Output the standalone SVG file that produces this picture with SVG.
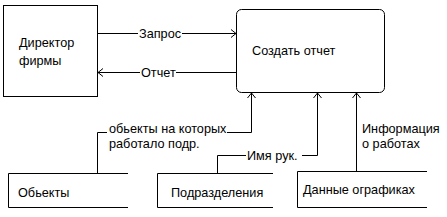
<svg xmlns="http://www.w3.org/2000/svg" width="447" height="217" viewBox="0 0 447 217">
<defs>
<style>
text{font-family:"Liberation Sans",Arial,sans-serif;font-size:12.7px;fill:#000}
.ln{fill:none;stroke:#000;stroke-width:1}
</style>
<marker id="ah" markerWidth="10" markerHeight="10" refX="6" refY="5" orient="auto" markerUnits="userSpaceOnUse">
<path d="M1,1 L6,5 L1,9" fill="none" stroke="#000" stroke-width="1"/>
</marker>
</defs>
<rect width="447" height="217" fill="#fff"/>
<g id="director">
<rect class="ln" x="3.5" y="5.5" width="94" height="91"/>
<text x="19" y="47">Директор</text>
<text x="19" y="65">фирмы</text>
</g>
<g id="create-report">
<rect class="ln" x="236.5" y="9.5" width="148" height="83" rx="5" ry="5"/>
<text x="252" y="55">Создать отчет</text>
</g>
<g id="objects">
<path class="ln" d="M128,173.5 H8.5 V207.5 H128"/>
<text x="18" y="197">Обьекты</text>
</g>
<g id="departments">
<path class="ln" d="M273,173.5 H157.5 V207.5 H273"/>
<text x="171" y="197">Подразделения</text>
</g>
<g id="schedule-data">
<path class="ln" d="M427,171.5 H297.5 V207.5 H427"/>
<text x="303" y="194">Данные ографиках</text>
</g>
<g id="connectors">
<path class="ln" d="M98,33.5 H138"/>
<path class="ln" d="M182,33.5 H236" marker-end="url(#ah)"/>
<text x="139" y="38">Запрос</text>
<path class="ln" d="M236,72.5 H176"/>
<path class="ln" d="M140,72.5 H98" marker-end="url(#ah)"/>
<text x="141" y="76.5">Отчет</text>
<path class="ln" d="M97.5,173 V132.5 H107"/>
<path class="ln" d="M227,132.5 H251.5 V93" marker-end="url(#ah)"/>
<text x="109" y="132.5">обьекты на которых</text>
<text x="109" y="148">работало подр.</text>
<path class="ln" d="M217.5,173 V155.5 H246"/>
<path class="ln" d="M302,155.5 H317.5 V93" marker-end="url(#ah)"/>
<text x="247" y="159.5">Имя рук.</text>
<path class="ln" d="M356.5,171 V93" marker-end="url(#ah)"/>
<text x="362" y="133">Информация</text>
<text x="362" y="148">о работах</text>
</g>
</svg>
